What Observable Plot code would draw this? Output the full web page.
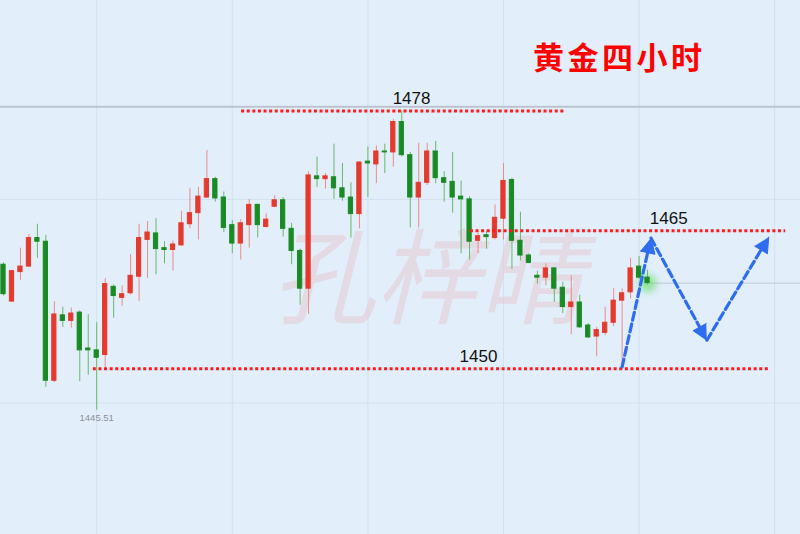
<!DOCTYPE html>
<html>
<head>
<meta charset="utf-8">
<script src="https://cdn.jsdelivr.net/npm/d3@7"></script>
<script src="https://cdn.jsdelivr.net/npm/@observablehq/plot@0.6"></script>
<style>
  html, body { margin: 0; padding: 0; background: #E2EFFB; }
  #wrap { position: relative; width: 800px; height: 534px; overflow: hidden; }
  #title {
    position: absolute; left: 533px; top: 36px;
    font-family: "Noto Sans CJK SC", sans-serif; font-weight: 700;
    font-size: 31px; letter-spacing: 3.5px; line-height: 40px;
    color: #FF0000; white-space: nowrap;
  }
</style>
</head>
<body>
<div id="wrap"><div id="title">黄金四小时</div></div>
<script>
// Gold, 4-hour candles (oldest first)
const OPEN = [1461.3,1457.3,1460.5,1461.1,1464.2,1463.8,1448.7,1455.8,1455.2,1456.1,
  1452.2,1452.0,1451.5,1458.9,1457.7,1458.2,1460.0,1464.0,1464.7,1463.1,
  1462.9,1463.4,1465.7,1466.9,1468.6,1470.6,1468.6,1465.6,1463.6,1465.6,
  1467.8,1465.4,1467.6,1468.3,1465.2,1462.8,1458.7,1470.9,1470.6,1470.8,
  1469.6,1468.6,1466.8,1472.5,1472.2,1473.6,1473.5,1476.8,1473.2,1468.6,
  1470.2,1473.6,1470.7,1470.3,1468.7,1468.4,1463.9,1464.5,1464.2,1466.3,
  1470.5,1463.9,1462.3,1460.1,1459.9,1460.9,1458.8,1456.7,1457.2,1454.7,
  1453.5,1453.9,1455.0,1457.4,1458.3,1461.1,1459.9];
const HIGH = [1461.5,1460.7,1463.1,1464.6,1465.7,1464.5,1457.3,1456.7,1456.6,1456.3,
  1455.9,1455.0,1459.8,1459.1,1459.0,1462.4,1465.7,1466.0,1466.3,1463.8,
  1463.9,1467.1,1469.6,1469.7,1473.7,1470.8,1469.2,1466.1,1466.2,1468.4,
  1467.9,1466.8,1468.8,1468.6,1465.8,1463.0,1471.4,1473.0,1471.2,1474.4,
  1472.3,1470.2,1472.5,1474.1,1474.2,1474.4,1477.1,1478.0,1473.5,1474.5,
  1474.5,1474.7,1471.4,1473.5,1470.4,1468.7,1464.7,1464.9,1467.8,1472.3,
  1470.7,1467.0,1462.5,1460.6,1461.4,1461.0,1459.4,1460.1,1458.0,1454.9,
  1454.5,1456.7,1458.7,1458.7,1462.0,1462.2,1460.7];
const LOW = [1457.9,1457.2,1459.6,1461.0,1462.0,1448.0,1448.5,1454.5,1454.4,1448.6,
  1449.3,1445.51,1450.1,1455.5,1456.8,1458.0,1457.3,1459.8,1460.2,1461.4,
  1460.6,1463.3,1465.2,1464.0,1468.5,1468.1,1464.8,1462.5,1461.8,1463.1,
  1464.2,1465.3,1467.5,1464.3,1461.3,1456.9,1455.9,1469.7,1469.5,1468.4,
  1468.2,1464.2,1465.2,1468.6,1470.1,1471.2,1471.9,1473.0,1465.3,1465.3,
  1469.9,1470.1,1468.1,1466.9,1462.5,1461.8,1462.5,1463.0,1464.0,1464.0,
  1460.8,1461.7,1461.4,1459.2,1459.0,1457.2,1456.0,1453.7,1454.4,1453.3,
  1451.3,1453.6,1454.6,1450.2,1457.6,1459.7,1459.1];
const CLOSE = [1458.1,1460.6,1461.1,1464.2,1463.8,1448.7,1455.9,1455.2,1456.0,1452.0,
  1452.0,1451.2,1459.2,1457.9,1458.1,1460.1,1464.2,1464.8,1463.0,1462.9,
  1463.5,1465.8,1466.9,1468.7,1470.6,1468.5,1465.3,1463.6,1465.8,1467.8,
  1465.6,1466.2,1468.3,1465.2,1462.8,1458.7,1471.0,1470.6,1470.9,1469.6,
  1468.6,1466.8,1472.4,1472.3,1473.6,1473.5,1476.8,1473.2,1468.6,1470.2,
  1473.6,1470.7,1470.2,1468.6,1468.4,1463.8,1464.4,1464.3,1466.4,1470.4,
  1463.9,1462.3,1461.5,1459.9,1460.9,1458.7,1456.7,1457.2,1454.5,1453.4,
  1454.2,1455.0,1457.4,1458.2,1460.9,1459.9,1459.3];

// Support / resistance levels drawn on the chart
const LEVELS = [1478, 1465, 1450];

// Projected path (candle index, price)
const PATH_INDEX = [73, 76.4, 83.0, 90.3];
const PATH_PRICE = [1450.2, 1464.2, 1453.1, 1464.3];

// Chart furniture
const GRID_INDEX = [11, 27, 43, 59, 75, 91];
const GRID_PRICE = [1468.4, 1446.3];
const PANE_TOP = 1478.45;
const WATERMARK = "孔梓晴";

// Layout of annotations, in candle-index units
const LEVEL_SPAN = [[28.1, 66.3], [55.1, 92.3], [10.6, 90.5]];
const LEVEL_LABEL_AT = [48.15, 78.5, 56.05];

const W = 800, H = 534;
const X = {type: "linear", domain: [-0.354, 94.05], range: [0, W]};
const Y = {type: "linear", domain: [1432, 1490], range: [H, 0]};

const RED = "#E5392D", GREEN = "#1A8A24";
const RED_WICK = "#EC8B86", GREEN_WICK = "#68B868";
const BLUE = "#2E6CF0", LEVEL_RED = "#FF1B1B";

const candles = OPEN.map((o, i) => ({
  i, open: o, high: HIGH[i], low: LOW[i], close: CLOSE[i], up: CLOSE[i] >= o
}));
const last = candles[candles.length - 1];
const lowIdx = d3.minIndex(LOW);

const levels = LEVELS.map((v, k) => ({
  value: v, from: LEVEL_SPAN[k][0], to: LEVEL_SPAN[k][1], at: LEVEL_LABEL_AT[k]
}));

// Dashed arrow legs with filled heads, built in screen space and mapped back
const sx = Plot.scale({x: X}), sy = Plot.scale({y: Y});
const HEAD_LEN = 15, HEAD_HALF = 7.5;
const legLines = [], legHeads = [];
for (let k = 0; k < PATH_INDEX.length - 1; ++k) {
  const p0 = [sx.apply(PATH_INDEX[k]), sy.apply(PATH_PRICE[k])];
  const p1 = [sx.apply(PATH_INDEX[k + 1]), sy.apply(PATH_PRICE[k + 1])];
  const len = Math.hypot(p1[0] - p0[0], p1[1] - p0[1]);
  const u = [(p1[0] - p0[0]) / len, (p1[1] - p0[1]) / len];
  const n = [-u[1], u[0]];
  const base = [p1[0] - u[0] * HEAD_LEN, p1[1] - u[1] * HEAD_LEN];
  const toData = ([px, py]) => ({x: sx.invert(px), y: sy.invert(py), leg: k});
  legLines.push(toData(p0), toData([base[0] + u[0], base[1] + u[1]]));
  legHeads.push(
    toData(p1),
    toData([base[0] + n[0] * HEAD_HALF, base[1] + n[1] * HEAD_HALF]),
    toData([base[0] - n[0] * HEAD_HALF, base[1] - n[1] * HEAD_HALF])
  );
}

const chart = Plot.plot({
  width: W, height: H, margin: 0,
  x: {...X, axis: null},
  y: {...Y, axis: null},
  style: {background: "transparent", fontFamily: "'Liberation Sans', Arial, sans-serif"},
  marks: [
    Plot.ruleX(GRID_INDEX, {stroke: "#D2E1EF", strokeWidth: 1}),
    Plot.ruleY(GRID_PRICE, {stroke: "#D2E1EF", strokeWidth: 1}),
    Plot.ruleY([PANE_TOP], {stroke: "#BAC5D0", strokeWidth: 2}),
    Plot.text([WATERMARK], {
      x: () => 50, y: () => 1459.4, text: d => d,
      fontSize: 104, fontStyle: "italic", fill: "#E4CCD6", fillOpacity: 0.6,
      fontFamily: "'Noto Sans CJK SC', sans-serif", textAnchor: "middle"
    }),
    Plot.ruleY([last.close], {x1: last.i + 0.35, x2: X.domain[1], stroke: "#BFC9D3", strokeWidth: 1}),
    Plot.dot([last], {x: "i", y: "close", r: 9, fill: "#4FD84F", fillOpacity: 0.55, stroke: null}),
    Plot.ruleX(candles, {x: "i", y1: "low", y2: "high", stroke: d => d.up ? RED_WICK : GREEN_WICK, strokeWidth: 1}),
    Plot.rect(candles, {
      x1: d => d.i - 0.25, x2: d => d.i + 0.25, y1: "open", y2: "close",
      fill: d => d.up ? RED : GREEN, stroke: d => d.up ? RED : GREEN, strokeWidth: 1
    }),
    Plot.ruleY(levels, {
      y: "value", x1: "from", x2: "to",
      stroke: LEVEL_RED, strokeWidth: 3, strokeDasharray: "3,2.6"
    }),
    Plot.text(levels, {
      x: "at", y: "value", text: d => String(d.value), dy: -12,
      fontSize: 17, fill: "#111", textAnchor: "middle"
    }),
    Plot.text([candles[lowIdx]], {
      x: "i", y: "low", text: d => d.low.toFixed(2), dy: 8,
      fontSize: 9.5, fill: "#8A9099", textAnchor: "middle"
    }),
    Plot.line(legLines, {x: "x", y: "y", z: "leg", stroke: BLUE, strokeWidth: 3.2, strokeDasharray: "8,4"}),
    Plot.line(legHeads, {x: "x", y: "y", z: "leg", fill: BLUE, stroke: BLUE, strokeWidth: 1, strokeLinejoin: "round"})
  ]
});

// soft halo around the latest candle
d3.select(chart).selectAll('g[aria-label="dot"]').style("filter", "blur(3.5px)");

document.getElementById("wrap").appendChild(chart);
</script>
</body>
</html>
